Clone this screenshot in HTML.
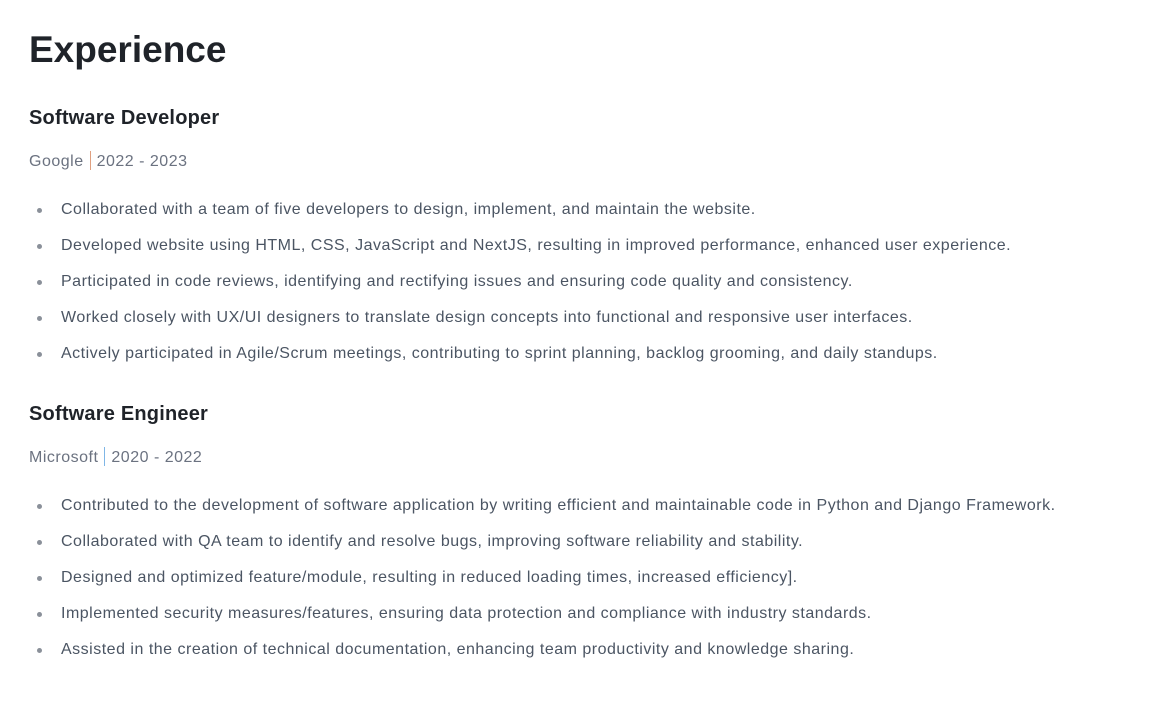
<!DOCTYPE html>
<html><head><meta charset="utf-8"><style>
body{margin:0;background:#fff;font-family:"Liberation Sans",sans-serif;width:1168px;height:711px;overflow:hidden}
.wrap{position:absolute;left:29px;top:0;right:0}
h1{position:absolute;top:28px;left:0;margin:0;font-size:37px;font-weight:700;color:#1f2329;line-height:44px}
.job{position:absolute;left:0}
h2{margin:0;font-size:20px;font-weight:600;color:#1f2329;line-height:24px;height:24px;letter-spacing:0.2px}
.co{margin-top:21px;font-size:16px;color:#6b7280;line-height:20px;height:20px;letter-spacing:0.5px}
.bar{display:inline-block;width:1px;height:19px;vertical-align:-4px;margin:0 6px 0 6px}
ul{margin:29px 0 0 0;padding:0;list-style:none}
li{position:relative;padding-left:32px;font-size:16px;color:#4b5563;line-height:20px;height:20px;margin-bottom:16px;letter-spacing:0.5px;white-space:nowrap}
li::before{content:"";position:absolute;left:8px;top:8px;width:5px;height:5px;border-radius:50%;background:#8a9099}
</style></head><body>
<div class="wrap">
<h1>Experience</h1>
<div class="job" style="top:106px">
<h2>Software Developer</h2>
<div class="co">Google<span class="bar" style="background:#e0a080"></span>2022 - 2023</div>
<ul>
<li>Collaborated with a team of five developers to design, implement, and maintain the website.</li>
<li>Developed website using HTML, CSS, JavaScript and NextJS, resulting in improved performance, enhanced user experience.</li>
<li>Participated in code reviews, identifying and rectifying issues and ensuring code quality and consistency.</li>
<li>Worked closely with UX/UI designers to translate design concepts into functional and responsive user interfaces.</li>
<li>Actively participated in Agile/Scrum meetings, contributing to sprint planning, backlog grooming, and daily standups.</li>
</ul></div>
<div class="job" style="top:402px">
<h2>Software Engineer</h2>
<div class="co">Microsoft<span class="bar" style="background:#7fb6e6"></span>2020 - 2022</div>
<ul>
<li>Contributed to the development of software application by writing efficient and maintainable code in Python and Django Framework.</li>
<li>Collaborated with QA team to identify and resolve bugs, improving software reliability and stability.</li>
<li>Designed and optimized feature/module, resulting in reduced loading times, increased efficiency].</li>
<li>Implemented security measures/features, ensuring data protection and compliance with industry standards.</li>
<li>Assisted in the creation of technical documentation, enhancing team productivity and knowledge sharing.</li>
</ul></div>
</div>
</body></html>
